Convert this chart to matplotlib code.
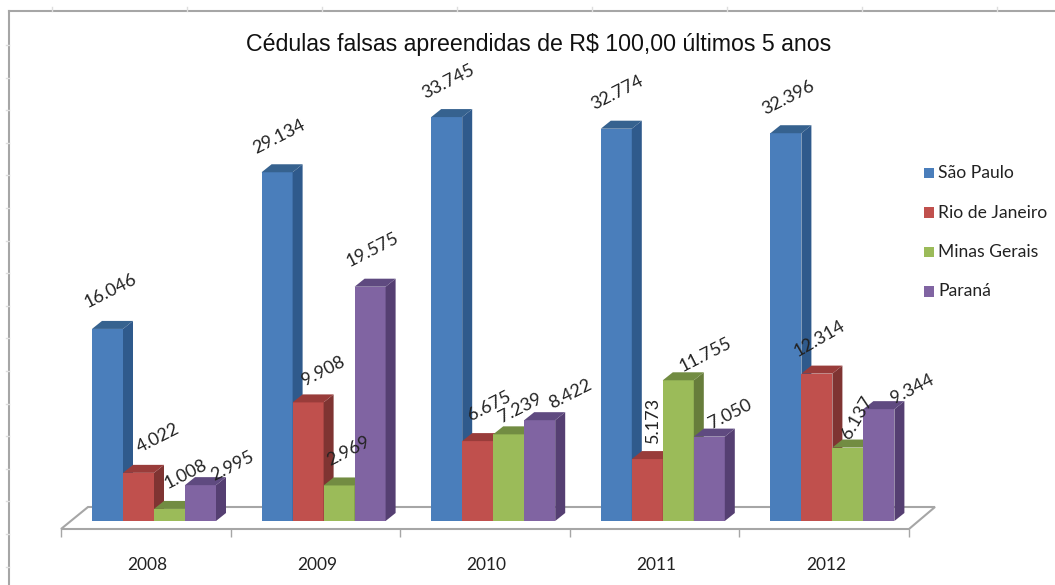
import matplotlib.pyplot as plt
from matplotlib.patches import Polygon, Rectangle
import numpy as np

years = ["2008", "2009", "2010", "2011", "2012"]
sao_paulo = [16046, 29134, 33745, 32774, 32396]
rio = [4022, 9908, 6675, 5173, 12314]
minas = [1008, 2969, 7239, 11755, 6137]
parana = [2995, 19575, 8422, 7050, 9344]
series_names = ["São Paulo", "Rio de Janeiro", "Minas Gerais", "Paraná"]
title = "Cédulas falsas apreendidas de R$ 100,00 últimos 5 anos"

series = [sao_paulo, rio, minas, parana]
front = ["#4a7ebb", "#c0504d", "#9bbb59", "#8064a2"]
side = ["#2f5a8c", "#7f3432", "#677d3b", "#553f72"]
top = ["#36628f", "#993c3a", "#728c42", "#5f4a80"]

# label offsets from top centre of each bar, in pixels
offsets = [
    [(3, 38), (19, 35), (16, 35), (32, 19)],
    [(2, 36), (15, 31), (9, 34), (2, 37)],
    [(1, 35), (12, 35), (12, 26), (31, 26)],
    [(1, 36), (6, 39), (27, 26), (21, 23)],
    [(2, 36), (3, 35), (9, 30), (33, 20)],
]
rotations = [
    [27, 27, 27, 27],
    [27, 27, 27, 27],
    [27, 27, 27, 27],
    [27, 90, 27, 27],
    [27, 30, 60, 27],
]

W, H = 1055, 585
fig = plt.figure(figsize=(W / 100, H / 100), dpi=100)
fig.patch.set_facecolor("white")

# axes from px 61..909 across, px 60..529 down
ax = fig.add_axes([61 / W, 1 - 529 / H, 848 / W, 469 / H])
px_y = 0.01197
ax.set_xlim(0, 5)
ax.set_ylim(-8 / px_y, (469 - 8) / px_y)
ax.patch.set_alpha(0)
px_x = 848 / 5
bw = 31 / px_x
dx = 10 / px_x
dy = 8 / px_y

# floor
ax.add_patch(Polygon([[0, -8 / px_y], [5, -8 / px_y], [5 + 26 / px_x, 14 / px_y],
                      [27 / px_x, 14 / px_y]], closed=True, fc="white", ec="#a6a6a6",
                     lw=1.5, clip_on=False, zorder=1))

for i in range(len(years)):
    for j in range(4):
        v = series[j][i]
        x0 = i + 31 / px_x + j * bw
        ax.bar(x0, v, bw, align="edge", color=front[j], lw=0, zorder=2 + i + j * 0.1)
        ax.add_patch(Polygon([[x0 + bw, 0], [x0 + bw + dx, dy], [x0 + bw + dx, v + dy], [x0 + bw, v]],
                             fc=side[j], ec="none", zorder=2 + i + j * 0.1, clip_on=False))
        ax.add_patch(Polygon([[x0, v], [x0 + dx, v + dy], [x0 + bw + dx, v + dy], [x0 + bw, v]],
                             fc=top[j], ec="none", zorder=2 + i + j * 0.1, clip_on=False))
        ax.annotate(f"{v:,}".replace(",", "."), (x0 + bw / 2, v), xytext=offsets[i][j],
                    textcoords="offset pixels", ha="center", va="center", rotation=rotations[i][j],
                    rotation_mode="anchor", family="Lato", fontsize=13, color="#222222", zorder=20,
                    annotation_clip=False)

ax.set_xticks(range(6))
ax.set_xticklabels([])
ax.set_xticks(np.arange(5) + 0.51, minor=True)
ax.set_xticklabels(years, minor=True, family="Lato", fontsize=12.5, color="#222222")
ax.tick_params(axis="x", which="major", length=6, color="#a6a6a6", width=1)
ax.tick_params(axis="x", which="minor", length=0, pad=20)
ax.set_yticks([])
for s in ax.spines.values():
    s.set_visible(False)

# outer frame of the screenshot
fig.add_artist(plt.Line2D([9 / W, 9 / W], [0, 1 - 11 / H], color="#a6a6a6", lw=1.5))
fig.add_artist(plt.Line2D([9 / W, 1], [1 - 11 / H, 1 - 11 / H], color="#a6a6a6", lw=1.5))
for py in np.arange(45, 585, 32.6):
    fig.add_artist(plt.Line2D([6 / W, 9 / W], [1 - py / H, 1 - py / H], color="#dddddd", lw=1))
for px in np.arange(52, 1055, 135):
    fig.add_artist(plt.Line2D([px / W, px / W], [1 - 11 / H, 1 - 7 / H], color="#dddddd", lw=1))

fig.text(539 / W, 1 - 45 / H, title, ha="center", va="center", family="Liberation Sans",
         fontsize=16.7, color="#111111")

# legend
for j, name in enumerate(series_names):
    py = 172 + j * 39.5
    fig.add_artist(Rectangle((924 / W, 1 - (py + 6) / H), 10 / W, 10 / H, fc=front[j], ec="none",
                             transform=fig.transFigure))
    fig.text(938 / W, 1 - (py + 1) / H, name, ha="left", va="center", family="Lato", fontsize=12.6,
             color="#222222")

fig.savefig("out.png", dpi=100)
